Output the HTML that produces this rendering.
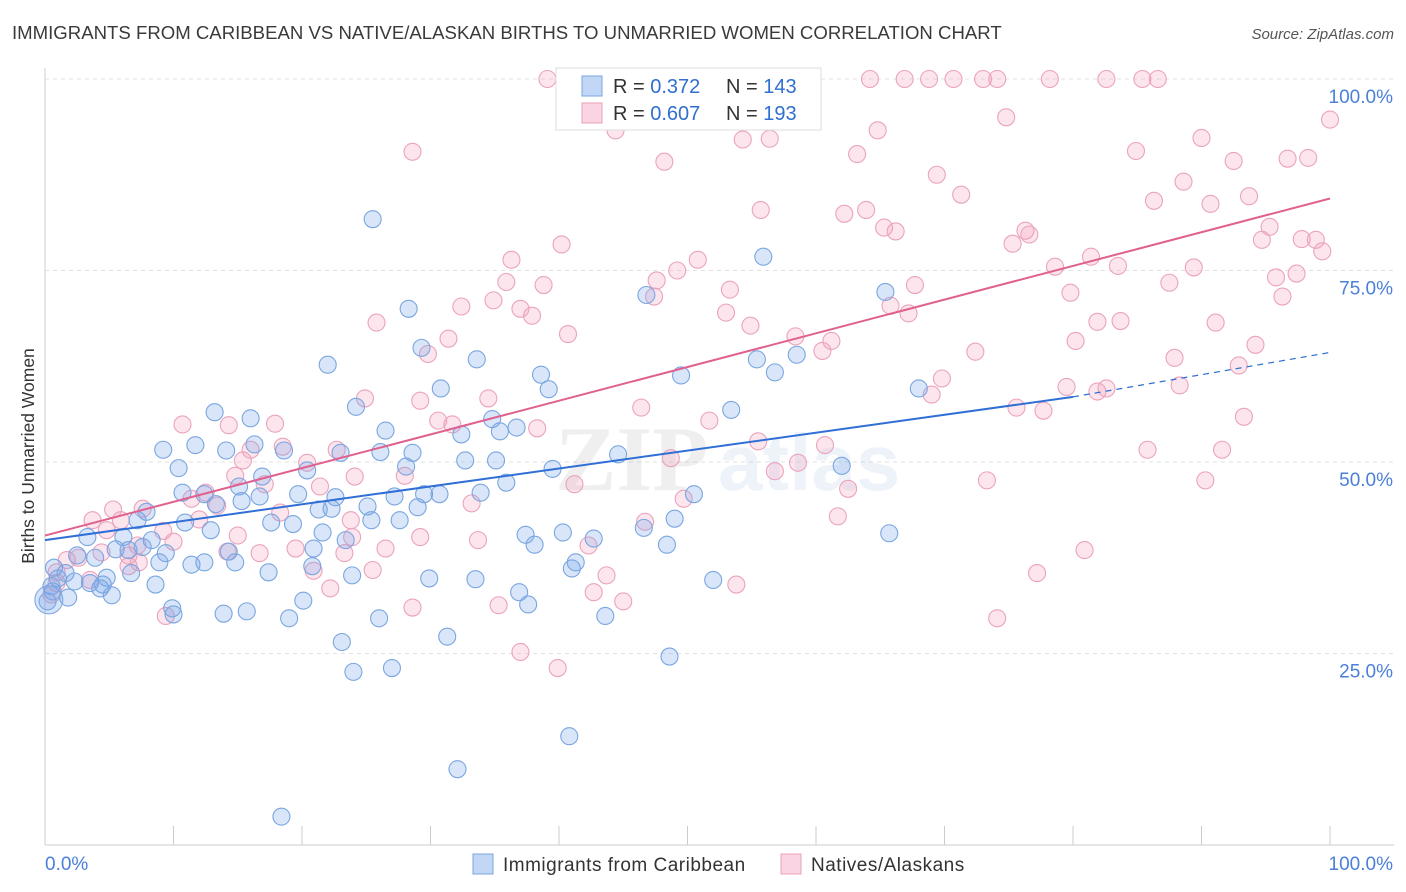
<!DOCTYPE html>
<html><head><meta charset="utf-8">
<style>
body{margin:0;background:#fff;font-family:"Liberation Sans",sans-serif;}
#wrap{position:relative;width:1406px;height:892px;overflow:hidden;}
</style></head>
<body>
<div id="wrap">
<svg id="chart" width="1406" height="892" xmlns="http://www.w3.org/2000/svg">
<text x="12" y="39" font-size="18.6" fill="#3a3a3a">IMMIGRANTS FROM CARIBBEAN VS NATIVE/ALASKAN BIRTHS TO UNMARRIED WOMEN CORRELATION CHART</text>
<text x="1394" y="39" font-size="15" fill="#555" font-style="italic" text-anchor="end">Source: ZipAtlas.com</text>
<text transform="translate(34,456) rotate(-90)" font-size="17.5" fill="#333" text-anchor="middle">Births to Unmarried Women</text>
<g id="grid"></g>
<g id="watermark" opacity="0.09">
<text x="555" y="490" font-size="92" font-family="Liberation Serif,serif" fill="#555" font-weight="bold">ZIP</text>
<text x="718" y="490" font-size="80" fill="#4a7fd0" font-weight="bold">atlas</text>
</g>
<g id="points"></g>
<g id="trends"></g>
<g id="legend">
<rect x="556" y="68" width="265" height="62" fill="#fff" stroke="#ddd"/>
<rect x="582" y="76" width="20" height="20" fill="rgba(120,165,235,0.45)" stroke="#7aa6e0"/>
<rect x="582" y="103" width="20" height="20" fill="rgba(245,160,190,0.45)" stroke="#eaa0b9"/>
<text x="613" y="93" font-size="20" fill="#333">R = <tspan fill="#2f6fd0">0.372</tspan></text>
<text x="726" y="93" font-size="20" fill="#333">N = <tspan fill="#2f6fd0">143</tspan></text>
<text x="613" y="120" font-size="20" fill="#333">R = <tspan fill="#2f6fd0">0.607</tspan></text>
<text x="726" y="120" font-size="20" fill="#333">N = <tspan fill="#2f6fd0">193</tspan></text>
</g>
<g>
<rect x="473" y="854" width="20" height="20" fill="rgba(120,165,235,0.45)" stroke="#7aa6e0"/>
<text x="503" y="871" font-size="19" fill="#333" letter-spacing="0.5">Immigrants from Caribbean</text>
<rect x="781" y="854" width="20" height="20" fill="rgba(245,160,190,0.45)" stroke="#eaa0b9"/>
<text x="811" y="871" font-size="19" fill="#333" letter-spacing="0.5">Natives/Alaskans</text>
</g>
</svg>
</div>
<script>
const yTicks=[25,50,75,100];
const yTickLabels=["25.0%","50.0%","75.0%","100.0%"];
const xTicks=[0,10,20,30,40,50,60,70,80,90,100];
const blueTrend=[[0,39.8],[80,58.5],[100,64.3]];
const pinkTrend=[[0,40.4],[100,84.4]];
const blueX=[25.5,28.3,29.3,22.0,33.6,30.8,38.6,39.2,24.2,13.2,16.0,32.4,34.8,36.7,35.4,26.5,9.2,11.7,14.1,16.3,18.6,23.0,26.1,28.6,32.7,35.1,10.4,20.4,16.9,28.1,39.5,35.9,15.1,10.7,12.4,19.7,16.7,22.6,27.2,29.5,30.7,33.9,15.3,21.3,22.3,25.1,7.9,13.3,29.0,7.2,10.9,17.6,19.3,25.4,27.6,21.6,12.9,3.3,6.1,8.3,23.4,37.4,40.3,42.7,46.6,49.0,5.5,6.5,7.6,9.4,14.3,20.9,38.1,48.4,65.7,3.9,2.5,8.9,11.4,12.4,14.8,20.8,41.3,41.0,0.7,1.6,6.7,17.4,23.9,4.8,1.0,2.3,3.5,4.5,8.6,29.9,33.5,52.0,0.5,4.3,36.9,0.6,5.2,1.8,0.2,20.1,37.6,9.9,10.0,13.9,15.7,19.0,26.0,43.6,31.3,23.1,24.0,27.0,48.6,40.8,32.1,18.4,46.8,55.9,65.4,58.5,55.4,56.8,49.5,68.0,53.4,62.0,44.6,50.5];
const blueY=[81.7,70.0,64.9,62.7,63.4,59.6,61.4,59.5,57.2,56.5,55.7,53.6,55.6,54.5,54.0,54.1,51.6,52.2,51.5,52.3,51.5,51.2,51.3,51.2,50.2,50.2,49.2,48.9,48.1,49.4,49.1,47.3,46.8,46.0,45.8,45.8,45.5,45.4,45.5,45.8,45.8,46.0,44.9,43.8,43.9,44.2,43.5,44.5,44.1,42.4,42.1,42.1,41.9,42.4,42.4,40.8,41.1,40.2,40.2,39.8,39.8,40.5,40.8,40.0,41.4,42.6,38.6,38.5,38.9,38.1,38.3,38.7,39.2,39.2,40.7,37.5,37.8,36.9,36.6,36.9,36.9,36.4,36.9,36.1,36.2,35.5,35.5,35.6,35.2,34.9,34.8,34.4,34.2,34.0,34.0,34.8,34.7,34.6,33.8,33.5,33.0,33.1,32.6,32.3,31.8,31.9,31.4,30.9,30.1,30.2,30.5,29.6,29.6,29.9,27.2,26.5,22.6,23.1,24.6,14.2,9.9,3.7,71.8,76.8,72.2,64.0,63.4,61.7,61.3,59.6,56.8,49.5,51.0,45.8];
const pinkX=[39.1,44.4,54.2,56.4,64.2,66.9,68.8,70.7,73.0,74.1,78.2,82.6,85.4,86.6,100,74.8,64.8,44.4,90.0,28.6,54.3,56.4,63.2,84.9,92.5,96.7,98.3,48.2,69.4,88.6,71.3,86.3,93.7,90.7,55.7,63.9,62.2,65.3,66.2,76.3,76.6,95.3,94.7,97.8,98.9,75.3,99.4,40.2,36.3,50.8,81.4,83.5,49.2,78.6,89.4,97.4,95.8,35.9,38.8,47.6,67.7,87.5,53.3,79.8,96.3,47.4,34.9,32.4,65.8,37.0,37.9,53.0,67.2,81.9,83.7,25.8,91.1,54.9,40.7,58.4,31.4,61.2,80.2,94.2,29.8,60.5,72.4,87.9,92.9,69.8,79.5,82.6,81.9,88.3,69.0,34.5,24.9,29.2,75.6,77.7,46.4,93.3,10.7,14.3,17.9,30.6,31.7,51.7,38.3,16.0,18.5,22.7,55.5,60.7,85.8,91.6,15.4,20.4,48.7,58.6,56.8,14.8,24.1,28.0,73.3,90.3,41.2,17.1,21.4,62.5,12.5,11.4,33.2,49.7,13.4,5.3,7.6,18.3,3.7,5.9,12.0,23.8,46.7,61.7,4.8,9.2,15.0,23.9,29.2,10.0,7.2,19.5,23.3,26.5,33.7,42.3,80.9,14.2,16.7,4.4,6.5,2.6,1.7,7.3,20.9,25.5,43.7,77.2,6.5,0.9,0.9,3.5,22.2,42.7,53.8,45.0,28.6,35.3,9.4,74.1,37.0,39.9,0.5];
const pinkY=[100,99.6,100,100,100,100,100,100,100,100,100,100,100,100,94.7,95.0,93.3,93.3,92.3,90.5,92.1,92.2,90.2,90.6,89.3,89.6,89.7,89.2,87.5,86.6,84.9,84.1,84.7,83.7,82.9,82.9,82.4,80.6,80.1,80.2,79.7,80.7,79.0,79.1,79.0,78.5,77.5,78.4,76.4,76.4,76.8,75.6,75.0,75.5,75.4,74.6,74.1,73.5,73.1,73.7,73.1,73.4,72.5,72.1,71.6,71.6,71.1,70.3,70.4,70.0,69.1,69.5,69.4,68.3,68.4,68.2,68.2,67.8,66.7,66.4,66.1,65.8,65.8,65.3,64.1,64.5,64.4,63.6,62.6,60.9,59.8,59.6,59.2,60.0,58.8,58.3,58.3,58.0,57.1,56.7,57.1,55.9,54.9,54.8,55.0,55.4,54.9,55.4,54.4,51.6,52.0,51.6,52.7,52.2,51.6,51.6,50.2,49.9,50.5,49.9,48.8,48.2,48.1,48.2,47.6,47.6,47.1,47.1,46.8,46.5,46.0,45.2,44.6,45.2,44.3,43.8,43.9,43.4,42.4,42.4,42.5,42.4,42.2,42.9,41.1,41.0,40.4,40.2,40.2,39.6,39.1,38.7,38.1,38.7,39.8,39.1,38.5,38.3,38.1,38.2,37.8,37.5,37.2,36.9,35.8,35.9,35.2,35.5,36.4,35.6,34.2,34.6,33.5,33.0,34.0,31.8,31.0,31.3,29.9,29.6,25.2,23.1,32.7];

const NS="http://www.w3.org/2000/svg";
const X0=45,X1=1330,Y0=845,Y100=79;
function sx(v){return X0+(X1-X0)*v/100;}
function sy(v){return Y0-(Y0-Y100)*v/100;}
function mk(tag,attrs,parent){const e=document.createElementNS(NS,tag);for(const k in attrs)e.setAttribute(k,attrs[k]);parent.appendChild(e);return e;}

const grid=document.getElementById('grid');
mk('line',{x1:45,y1:68,x2:45,y2:845,stroke:'#ccc','stroke-width':1},grid);
mk('line',{x1:45,y1:845,x2:1394,y2:845,stroke:'#ccc','stroke-width':1},grid);
mk('line',{x1:45,y1:sy(100),x2:1394,y2:sy(100),stroke:'#ddd','stroke-dasharray':'4,4'},grid);
yTicks.forEach((t,i)=>{
  const l=mk('line',{x1:45,y1:sy(t),x2:1394,y2:sy(t),stroke:'#e2e2e2','stroke-dasharray':'4,4'},grid);
  
  
  const tx=mk('text',{x:1393,y:sy(t)+24,'font-size':19,fill:'#4a80d8','text-anchor':'end'},grid);
  tx.textContent=yTickLabels[i];
  
  
});
xTicks.forEach(t=>{
  const l=mk('line',{x1:sx(t),y1:826,x2:sx(t),y2:845,stroke:'#ccc'},grid);
  
  
});
const xl0=mk('text',{x:45,y:870,'font-size':19,fill:'#4a80d8'},grid);xl0.textContent='0.0%';


const xl1=mk('text',{x:1393,y:870,'font-size':19,fill:'#4a80d8','text-anchor':'end'},grid);xl1.textContent='100.0%';



const pts=document.getElementById('points');
for(let i=0;i<pinkX.length;i++){
  const c=mk('circle',{cx:sx(pinkX[i]),cy:sy(pinkY[i]),r:8.5,fill:'rgba(245,160,190,0.28)',stroke:'#eba3bc','stroke-width':1.1},pts);
  
  
}
for(let i=0;i<blueX.length;i++){
  const c=mk('circle',{cx:sx(blueX[i]),cy:sy(blueY[i]),r:8.5,fill:'rgba(120,165,235,0.28)',stroke:'#7aa6e0','stroke-width':1.1},pts);
  
  
}
const bigB=mk('circle',{cx:sx(0.3),cy:sy(32),r:14,fill:'rgba(120,165,235,0.3)',stroke:'#7aa6e0'},pts);



const tr=document.getElementById('trends');
const bl=mk('line',{x1:sx(blueTrend[0][0]),y1:sy(blueTrend[0][1]),x2:sx(blueTrend[1][0]),y2:sy(blueTrend[1][1]),stroke:'#2f6fd6','stroke-width':2},tr);


const bd=mk('line',{x1:sx(blueTrend[1][0]),y1:sy(blueTrend[1][1]),x2:sx(blueTrend[2][0]),y2:sy(blueTrend[2][1]),stroke:'#2f6fd6','stroke-width':1.2,'stroke-dasharray':'6,5'},tr);


const pl=mk('line',{x1:sx(pinkTrend[0][0]),y1:sy(pinkTrend[0][1]),x2:sx(pinkTrend[1][0]),y2:sy(pinkTrend[1][1]),stroke:'#e0608e','stroke-width':2},tr);


</script>
</body></html>
